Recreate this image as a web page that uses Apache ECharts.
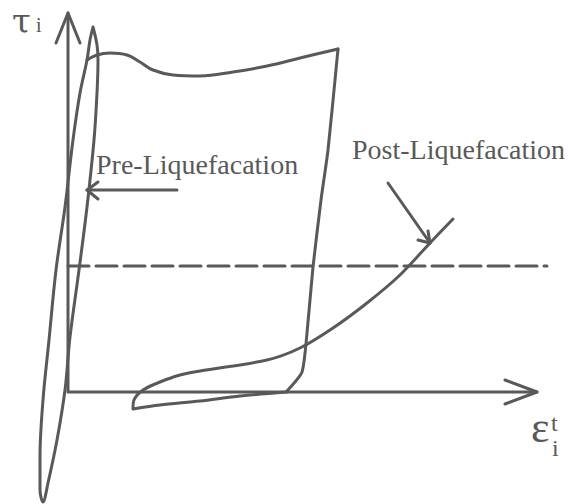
<!DOCTYPE html>
<html>
<head>
<meta charset="utf-8">
<script src="https://cdn.jsdelivr.net/npm/echarts@6/dist/echarts.min.js"></script>
<style>
  html, body { margin: 0; padding: 0; background: #ffffff; }
  #chart { width: 568px; height: 504px; }
</style>
</head>
<body>
<div id="chart"></div>
<script>
// Schematic stress–strain paths (strain on x, shear stress on y, arbitrary units).

// Narrow hysteresis loop before liquefaction (closed path)
const preLoop = [
  [2.5, 36.5], [2.9, 34.7], [3.0, 33.2], [2.9, 29.9], [2.6, 25.2], [1.9, 18.5],
  [1.1, 12.2], [0.2, 5.5], [-0.3, 0.2], [-1.1, -4.8], [-2.0, -9.1], [-2.5, -11.0],
  [-2.8, -9.8], [-2.8, -6.5], [-2.5, -0.8], [-1.9, 5.2], [-1.2, 12.2], [-0.3, 18.5],
  [0.5, 25.2], [1.2, 29.9], [1.9, 33.2], [2.2, 35.2], [2.5, 36.5]
];

// Post-liquefaction path: wavy upper plateau
const postTop = [
  [1.9, 33.2], [2.9, 33.7], [4.2, 33.9], [5.9, 33.7], [7.2, 33.0], [8.5, 32.2],
  [10.5, 31.7], [13.2, 31.6], [16.5, 32.0], [19.9, 32.6], [23.2, 33.4], [27.0, 34.3]
];

// Post-liquefaction path: unloading branch
const postUnload = [
  [27.0, 34.3], [26.0, 24.2], [25.3, 19.2], [24.5, 12.5], [23.9, 5.9], [23.4, 2.0], [21.9, 0.1]
];

// Post-liquefaction path: lower lobe and re-loading branch
const postReload = [
  [21.9, 0.0], [17.2, -0.4], [13.2, -0.9], [9.2, -1.3], [6.5, -1.7],
  [6.6, -0.8], [7.5, 0.2], [9.2, 1.0], [11.2, 1.7], [13.2, 2.1], [19.9, 3.2],
  [23.2, 4.4], [26.5, 6.4], [29.9, 8.9], [33.2, 11.7], [36.2, 14.9], [38.5, 17.3]
];

// Threshold stress level (dashed)
const thresholdLevel = 12.6;
const thresholdSpan = [0, 47.9];

// Coordinate axes and their open arrowheads
const axisLines = [[0, 37.9], [0, 0], [46.9, 0]];
const yArrowHead = [[-1.2, 34.9], [0, 37.9], [1.2, 34.9]];
const xArrowHead = [[43.7, 1.2], [46.9, 0], [43.7, -1.2]];

// Pointer arrows for the two annotations
const prePointer = [[10.9, 20.2], [1.9, 20.2]];
const prePointerHead = [[3.0, 21.0], [1.9, 20.2], [3.0, 19.3]];
const postPointer = [[32.0, 20.9], [36.2, 14.9]];
const postPointerHead = [[35.0, 15.2], [36.2, 14.9], [36.0, 16.1]];

// Text
const labelPre = 'Pre-Liquefacation';
const labelPost = 'Post-Liquefacation';
const yName = 'τ';
const yNameSub = 'i';
const xName = 'ε';
const xNameSup = 't';
const xNameSub = 'i';

const INK = '#595959';
const SERIF = '"Liberation Serif", "Times New Roman", serif';
const GREEK = '"DejaVu Serif", "Liberation Serif", serif';

function path(data, opts) {
  opts = opts || {};
  return {
    type: 'line',
    data: data,
    showSymbol: false,
    symbol: 'none',
    smooth: opts.smooth || false,
    silent: true,
    animation: false,
    lineStyle: {
      color: INK,
      width: opts.width || 3,
      type: opts.dash || 'solid',
      cap: 'round',
      join: 'round'
    }
  };
}

function label(text, x, y, size, family) {
  return {
    type: 'text',
    silent: true,
    style: {
      text: text, x: x, y: y,
      font: size + 'px ' + (family || SERIF),
      fill: INK, textVerticalAlign: 'bottom'
    }
  };
}

const chart = echarts.init(document.getElementById('chart'), null, { renderer: 'svg' });

chart.setOption({
  animation: false,
  backgroundColor: '#ffffff',
  grid: { left: 0, right: 0, top: 0, bottom: 0 },
  xAxis: { type: 'value', min: -6.8, max: 50, show: false },
  yAxis: { type: 'value', min: -11.2, max: 39.2, show: false },
  series: [
    path(axisLines),
    path(yArrowHead),
    path(xArrowHead),
    path([[thresholdSpan[0], thresholdLevel], [thresholdSpan[1], thresholdLevel]], { dash: [21, 7] }),
    path(preLoop, { smooth: 0.35 }),
    path(postTop, { smooth: 0.4 }),
    path(postUnload, { smooth: 0.2 }),
    path(postReload, { smooth: 0.3 }),
    path(prePointer),
    path(prePointerHead),
    path(postPointer),
    path(postPointerHead)
  ],
  graphic: [
    label(labelPre, 96, 178, 28),
    label(labelPost, 352, 163, 28),
    label(yName, 12, 38, 34, GREEK),
    label(yNameSub, 36, 35, 20),
    label(xName, 531, 449, 44),
    label(xNameSup, 551, 435, 24),
    label(xNameSub, 552, 460, 24)
  ]
});
</script>
</body>
</html>
